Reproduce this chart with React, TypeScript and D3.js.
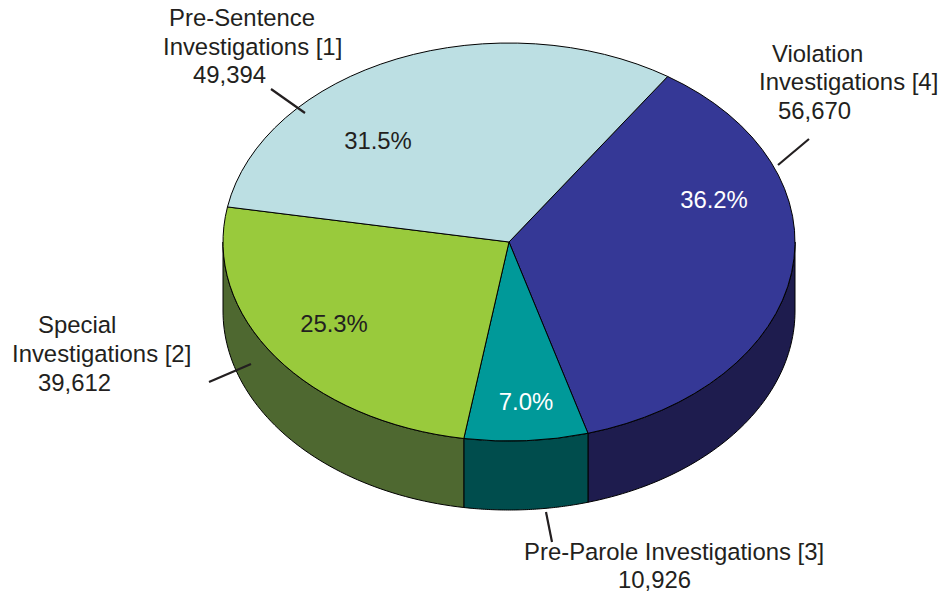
import React from 'react';
import * as d3 from 'd3';

// data, in drawing order (clockwise from the top-right edge)
const categories = ['Violation', 'Pre-Parole', 'Special', 'Pre-Sentence'];
const labelLines = [
  ['Violation', 'Investigations [4]'],
  ['Pre-Parole Investigations [3]'],
  ['Special', 'Investigations [2]'],
  ['Pre-Sentence', 'Investigations [1]'],
];
const counts = [56670, 10926, 39612, 49394];

const topColors = ['#353896', '#009999', '#99CA3C', '#BCDFE3'];
const sideColors = ['#1E1C4E', '#004D4D', '#4E6830', '#5C7A3A'];
const pctColors = ['#ffffff', '#ffffff', '#231F20', '#231F20'];

const W = 941;
const H = 596;
const cx = 509;
const cy = 242;
const rx = 286;
const ry = 199;
const depth = 69;
const startDeg = -56.3; // parametric angle, from 3 o'clock, clockwise

// label placement (start anchor x, baseline y per line)
const labelPos = [
  [[772, 62], [759, 90], [778, 119]],
  [[524, 560], [618, 588]],
  [[38, 333], [12, 362], [38, 391]],
  [[169, 26], [163, 55], [193, 83]],
];
const pctPos = [[714, 208], [526, 410], [334, 332], [378, 149]];
const leaders = [
  [[809, 139], [778, 165]],
  [[546, 512], [552, 542]],
  [[209, 382], [251, 364]],
  [[271, 89], [305, 113]],
];

const fmtPct = d3.format('.1%');
const fmtNum = d3.format(',');

export default function App() {
  const total = d3.sum(counts);
  const rad = (d: number) => (d * Math.PI) / 180;

  // d3 pie angles: 0 at 12 o'clock; convert to parametric (0 at 3 o'clock)
  const pie = d3
    .pie<number>()
    .sort(null)
    .startAngle(rad(startDeg + 90))
    .endAngle(rad(startDeg + 90 + 360));
  const arcs = pie(counts);

  const arc = d3.arc<d3.PieArcDatum<number>>().innerRadius(0).outerRadius(rx);

  // side wall: front-facing part of each slice (parametric angle in [0, PI])
  const side = d3
    .area<number>()
    .x((t) => cx + rx * Math.cos(t))
    .y0((t) => cy + ry * Math.sin(t) + depth)
    .y1((t) => cy + ry * Math.sin(t));

  const walls = arcs.map((a, i) => {
    let t0 = a.startAngle - Math.PI / 2;
    let t1 = a.endAngle - Math.PI / 2;
    if (t0 >= Math.PI * 2) {
      t0 -= Math.PI * 2;
      t1 -= Math.PI * 2;
    }
    const lo = Math.max(t0, 0);
    const hi = Math.min(t1, Math.PI);
    if (hi <= lo) return null;
    const ts = d3.range(0, 61).map((k) => lo + ((hi - lo) * k) / 60);
    return <path key={'w' + i} d={side(ts)!} fill={sideColors[i]} stroke="#000" strokeWidth={1} />;
  });

  return (
    <svg width={W} height={H} style={{ display: 'block', position: 'absolute', left: 0, top: 0 }}>
      <rect width={W} height={H} fill="#fff" />
      {walls}
      <g transform={`translate(${cx},${cy}) scale(1,${ry / rx})`}>
        {arcs.map((a, i) => (
          <path
            key={'s' + i}
            d={arc(a)!}
            fill={topColors[i]}
            stroke="#000"
            strokeWidth={1}
            vectorEffect="non-scaling-stroke"
            strokeLinejoin="round"
          />
        ))}
      </g>
      <g fontFamily="'Liberation Sans', Arial, sans-serif" fontSize={23.9}>
        {arcs.map((a, i) => (
          <text key={'p' + i} x={pctPos[i][0]} y={pctPos[i][1]} textAnchor="middle" fill={pctColors[i]}>
            {fmtPct(counts[i] / total)}
          </text>
        ))}
        {categories.map((c, i) => {
          const lines = [...labelLines[i], fmtNum(counts[i])];
          return (
            <g key={'l' + c}>
              {lines.map((ln, j) => (
                <text key={j} x={labelPos[i][j][0]} y={labelPos[i][j][1]} fill="#231F20">
                  {ln}
                </text>
              ))}
              <line
                x1={leaders[i][0][0]}
                y1={leaders[i][0][1]}
                x2={leaders[i][1][0]}
                y2={leaders[i][1][1]}
                stroke="#231F20"
                strokeWidth={2.2}
              />
            </g>
          );
        })}
      </g>
    </svg>
  );
}
